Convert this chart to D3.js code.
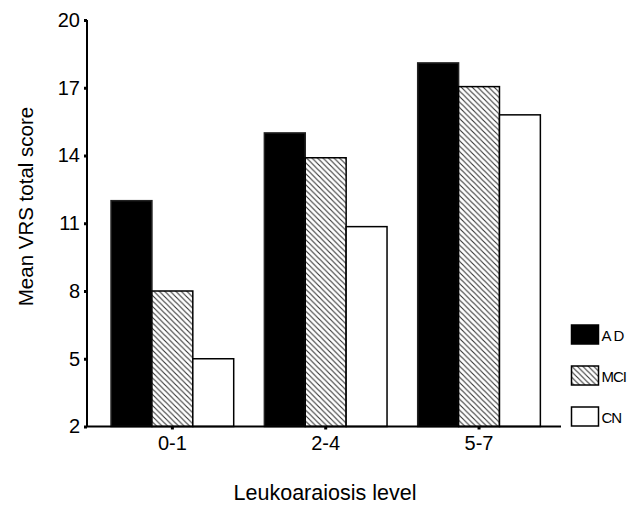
<!DOCTYPE html>
<html><head><meta charset="utf-8">
<script src="https://cdn.jsdelivr.net/npm/d3@7"></script>
<style>body{margin:0;background:#fff}svg{display:block}text{font-family:"Liberation Sans",Arial,sans-serif;fill:#000}</style>
</head><body><svg id="c" width="635" height="506"></svg>
<script>
const categories = ["0-1", "2-4", "5-7"];
const seriesNames = ["AD", "MCI", "CN"];
const AD  = [12.0, 15.0, 18.1];
const MCI = [8.0, 13.9, 17.05];
const CN  = [5.0, 10.85, 15.8];
const yTicks = [2, 5, 8, 11, 14, 17, 20];
const seriesValues = [AD, MCI, CN];

const svg = d3.select("#c");
const defs = svg.append("defs");
const p = defs.append("pattern").attr("id","hatch").attr("patternUnits","userSpaceOnUse")
  .attr("width",5.5).attr("height",5.5);
p.append("rect").attr("width",5.5).attr("height",5.5).attr("fill","#fff");
p.append("path").attr("d","M0,0L5.5,5.5M-1,4.5L1,6.5M4.5,-1L6.5,1").attr("stroke","#333").attr("stroke-width",1.1);

const fills = ["#000", "url(#hatch)", "#fff"];
const axX = 87, axY = 426.5;
const y = d3.scaleLinear().domain([2,20]).range([axY, 20]);
const x0 = d3.scaleBand().domain(categories).range([95.7, 555.7]).paddingInner(0.2).paddingOuter(0.1);
const x1 = d3.scaleBand().domain(seriesNames).range([0, x0.bandwidth()]);

const data = [];
categories.forEach((c,i)=>seriesNames.forEach((s,j)=>data.push({c,s,j,v:seriesValues[j][i]})));

svg.append("g").selectAll("rect").data(data).join("rect")
  .attr("x", d=>x0(d.c)+x1(d.s))
  .attr("y", d=>y(d.v))
  .attr("width", x1.bandwidth())
  .attr("height", d=>axY - y(d.v))
  .attr("fill", d=>fills[d.j])
  .attr("stroke", d=>d.j===0?"#222":"#000")
  .attr("stroke-width", 1.5);

// y axis
const ya = svg.append("g").attr("transform",`translate(${axX},0)`)
  .call(d3.axisLeft(y).tickValues(yTicks).tickSize(3).tickPadding(4).tickFormat(d3.format("d")));
ya.select(".domain").attr("d", `M0,${y(20)}V${axY}`).attr("stroke","#000").attr("stroke-width",2);
ya.selectAll(".tick line").attr("stroke","#000").attr("stroke-width",3);
ya.selectAll(".tick text").attr("font-size",20).attr("font-family","Liberation Sans, Arial, sans-serif");

// x axis
const xa = svg.append("g").attr("transform",`translate(0,${axY})`)
  .call(d3.axisBottom(x0).tickSize(3).tickPadding(6));
xa.select(".domain").attr("d", `M${axX},0H561`).attr("stroke","#000").attr("stroke-width",2);
xa.selectAll(".tick line").attr("stroke","#000").attr("stroke-width",3);
xa.selectAll(".tick text").attr("font-size",20).attr("font-family","Liberation Sans, Arial, sans-serif");

// titles
svg.append("text").attr("x",325).attr("y",500).attr("text-anchor","middle")
  .attr("font-size",21.5).text("Leukoaraiosis level");
svg.append("text").attr("transform","translate(33,206.5) rotate(-90)").attr("text-anchor","middle")
  .attr("font-size",20.5).text("Mean VRS total score");

// legend
const lg = svg.append("g").selectAll("g").data(seriesNames).join("g")
  .attr("transform",(d,i)=>`translate(571.5,${325 + i*41})`);
lg.append("rect").attr("width",27).attr("height",19)
  .attr("fill",(d,i)=>fills[i]).attr("stroke","#000").attr("stroke-width",1.5);
lg.append("text").attr("x",30).attr("y",16).attr("font-size",15)
  .attr("letter-spacing",(d,i)=>i===0?2:-1).text(d=>d);
</script></body></html>
